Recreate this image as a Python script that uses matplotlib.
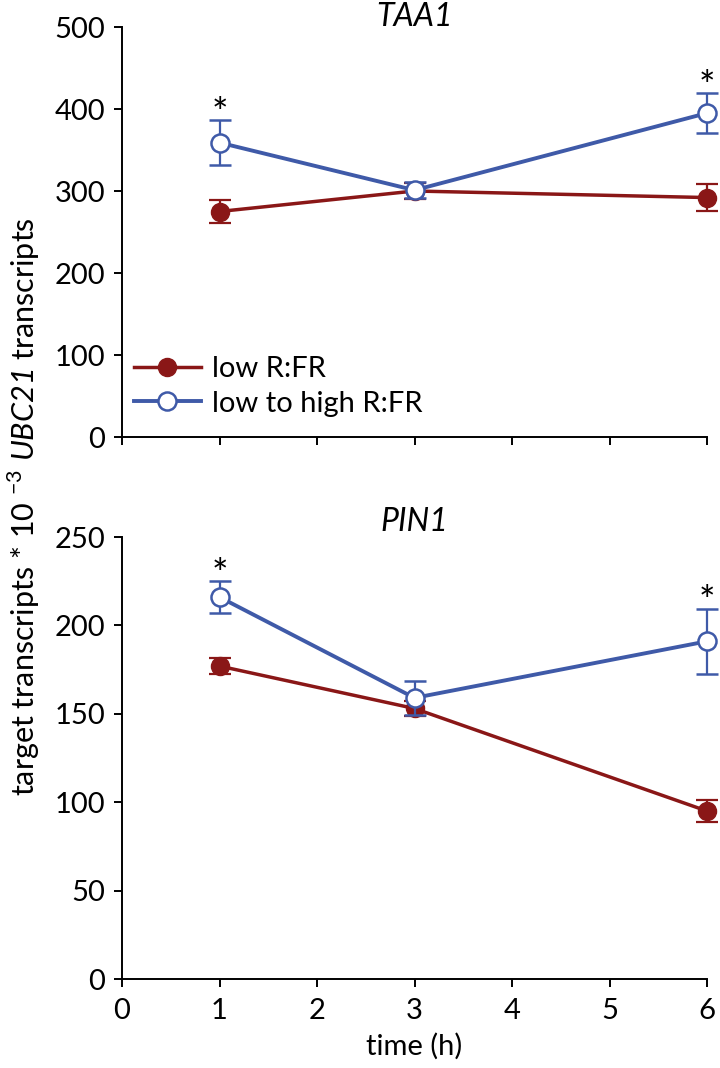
import matplotlib
matplotlib.use("Agg")
import matplotlib.pyplot as plt
from matplotlib.lines import Line2D

plt.rcParams['font.family'] = ['Lato', 'DejaVu Sans']
plt.rcParams['mathtext.fontset'] = 'custom'
plt.rcParams['mathtext.rm'] = 'Lato'
# italic digits: the 'it' slot forces digits upright, so use the sf slot
plt.rcParams['mathtext.sf'] = 'Lato:italic'

# time points (h)
time = [1, 3, 6]

# TAA1
taa1_low = [275, 300, 292]
taa1_low_err = [14, 10, 16]
taa1_high = [359, 301, 395]
taa1_high_err = [27, 10, 24]
taa1_star = [1, 6]

# PIN1
pin1_low = [177, 153, 95]
pin1_low_err = [4.5, 4.5, 6]
pin1_high = [216, 159, 191]
pin1_high_err = [9, 9.5, 18.5]
pin1_star = [1, 6]

red = '#8a1717'
blue = '#3f5aa8'
fs = 21

W, H = 720, 1068
fig = plt.figure(figsize=(W / 100, H / 100), dpi=100)


def px_axes(left, right, top, bottom):
    return fig.add_axes([left / W, 1 - bottom / H, (right - left) / W, (bottom - top) / H])


def draw(ax, low, low_err, high, high_err, stars, ymax, ystep):
    ax.errorbar(time, low, yerr=low_err, color=red, lw=2.5, marker='o', ms=13,
                mfc=red, mec=red, ecolor=red, elinewidth=1.6, capsize=8,
                capthick=1.6, clip_on=False, zorder=3)
    ax.errorbar(time, high, yerr=high_err, color=blue, lw=2.8, marker='o', ms=13,
                mfc='white', mec=blue, mew=1.8, ecolor=blue, elinewidth=1.6,
                capsize=8, capthick=1.6, clip_on=False, zorder=4)
    for t in stars:
        i = time.index(t)
        ax.annotate('*', (t, high[i] + high_err[i]), xytext=(0, -4),
                    textcoords='offset points', ha='center', va='baseline',
                    fontsize=28)
    ax.set_xlim(0, 6)
    ax.set_ylim(0, ymax)
    ax.set_xticks(range(7))
    ax.set_yticks(range(0, ymax + 1, ystep))
    for s in ['top', 'right']:
        ax.spines[s].set_visible(False)
    for s in ['left', 'bottom']:
        ax.spines[s].set_linewidth(1.4)
    ax.tick_params(direction='out', length=6, width=1.4, labelsize=fs)
    ax.tick_params(axis='x', pad=8)
    ax.tick_params(axis='y', pad=6)


ax1 = px_axes(122, 707, 27, 437)
draw(ax1, taa1_low, taa1_low_err, taa1_high, taa1_high_err, taa1_star, 500, 100)
ax1.tick_params(axis='x', labelbottom=False)
fig.text((122 + 707) / 2 / W, 1 - 2 / H, 'TAA1', ha='center', va='top',
         fontsize=fs + 2, style='italic')
handles = [
    Line2D([], [], color=red, lw=2.5, marker='o', ms=13, mfc=red, mec=red),
    Line2D([], [], color=blue, lw=2.8, marker='o', ms=13, mfc='white', mec=blue, mew=1.8),
]
ax1.legend(handles, ['low R:FR', 'low to high R:FR'], loc='lower left',
           bbox_to_anchor=(0.02, 0.05), frameon=False, fontsize=fs,
           handlelength=2.3, handletextpad=0.4, labelspacing=0.3, borderpad=0,
           borderaxespad=0)

ax2 = px_axes(122, 707, 537, 979)
draw(ax2, pin1_low, pin1_low_err, pin1_high, pin1_high_err, pin1_star, 250, 50)
ax2.set_title('PIN1', fontsize=fs + 2, style='italic', pad=1)
ax2.set_xlabel('time (h)', fontsize=fs, labelpad=6)

fig.text(24 / W, 1 - 507 / H,
         r'target transcripts * 10 $^{-3}$ $\mathsf{UBC21}$ transcripts',
         rotation=90, ha='center', va='center', fontsize=fs + 1)

fig.savefig('out.png', dpi=100)
